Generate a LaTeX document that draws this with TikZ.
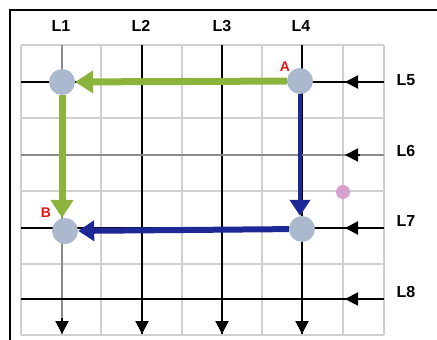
\documentclass[tikz,border=0pt]{standalone}
\usepackage{fontspec}
\setmainfont{Liberation Sans}
\usetikzlibrary{arrows.meta}
\definecolor{gridgray}{RGB}{208,208,208}
\definecolor{midgray}{RGB}{140,140,140}
\definecolor{routegreen}{RGB}{140,180,60}
\definecolor{routeblue}{RGB}{28,40,150}
\definecolor{stationcol}{RGB}{170,185,205}
\definecolor{pinkdot}{RGB}{215,160,205}
\definecolor{labred}{RGB}{225,20,20}
\begin{document}
\begin{tikzpicture}[x=1pt,y=-1pt,
  gridline/.style={draw=gridgray, line width=2.2},
  blackline/.style={draw=black, line width=2},
  grayline/.style={draw=midgray, line width=2},
  tip/.style={-{Triangle[length=13,width=13]}, black, line width=2},
  station/.style={circle, fill=stationcol, minimum size=26, inner sep=0},
  lab/.style={font=\fontsize{16}{16}\selectfont\bfseries, inner sep=0},
  redlab/.style={font=\fontsize{14}{14}\selectfont\bfseries, text=labred, inner sep=0},
  greenroute/.style={draw=routegreen, line width=7, -{Triangle[length=18,width=22]}},
  blueroute/.style={draw=routeblue, -{Triangle[length=16,width=20]}}]
\useasboundingbox (0,0) rectangle (437,340);
\fill[white] (0,0) rectangle (437,340);
% grid
\foreach \x in {21,62,101,142,182,222,262,302,343,384}
  \draw[gridline] (\x,45) -- (\x,335);
\foreach \y in {45,82,118,155,191,228,264,299,335}
  \draw[gridline] (21,\y) -- (384,\y);
% frame
\draw[line width=2.5] (10,345) -- (10,10) -- (440,10);
% coordinates of line ends
\coordinate (l5w) at (21,82);  \coordinate (l5e) at (384,82);  \coordinate (l5a) at (345,82);
\coordinate (l6w) at (21,155); \coordinate (l6e) at (384,155); \coordinate (l6a) at (345,155);
\coordinate (l7w) at (21,228); \coordinate (l7e) at (384,228); \coordinate (l7a) at (345,228);
\coordinate (l8w) at (21,299); \coordinate (l8e) at (384,299); \coordinate (l8a) at (345,299);
\coordinate (l1n) at (62,45);  \coordinate (l1s) at (62,334); \coordinate (l1a) at (62,318);
\coordinate (l2n) at (142,45); \coordinate (l2s) at (142,334);
\coordinate (l3n) at (222,45); \coordinate (l3s) at (222,334);
\coordinate (l4n) at (302,45); \coordinate (l4s) at (302,334);
% lines
\draw[grayline] (l1n) -- (l1s);
\draw[tip] (l1a) -- (l1s);
\draw[blackline] (l2n) -- (l2s);
\draw[tip] (142,318) -- (l2s);
\draw[blackline] (l3n) -- (l3s);
\draw[tip] (222,318) -- (l3s);
\draw[blackline] (l4n) -- (l4s);
\draw[tip] (302,318) -- (l4s);
\draw[blackline] (l5e) -- (l5w);
\draw[tip] (360,82) -- (l5a);
\draw[grayline] (l6e) -- (l6w);
\draw[tip] (360,155) -- (l6a);
\draw[blackline] (l7e) -- (l7w);
\draw[tip] (360,228) -- (l7a);
\draw[blackline] (l8e) -- (l8w);
\draw[tip] (360,299) -- (l8a);
% labels
\node[lab] (t1) at (61,26) {L1};
\node[lab] (t2) at (141,26) {L2};
\node[lab] (t3) at (222,26) {L3};
\node[lab] (t4) at (301,26) {L4};
\node[lab] (t5) at (406,80) {L5};
\node[lab] (t6) at (406,151) {L6};
\node[lab] (t7) at (406,221) {L7};
\node[lab] (t8) at (406,292) {L8};
% stations
\node[station] (A) at (300,81) {};
\node[station] (C) at (62,82) {};
\node[station] (D) at (302,229) {};
\node[station] (B) at (65,231) {};
\node[circle, fill=pinkdot, minimum size=14, inner sep=0] (P) at (343,192) {};
\node[redlab] (la) at (285,67) {A};
\node[redlab] (lb) at (46,213) {B};
% routes
\draw[greenroute] (A) -- (C);
\draw[greenroute] (C) -- (C |- B.north);
\draw[blueroute, line width=4] (A) -- (A |- D.north);
\draw[blueroute, line width=6] (D) -- (B);
\end{tikzpicture}
\end{document}
